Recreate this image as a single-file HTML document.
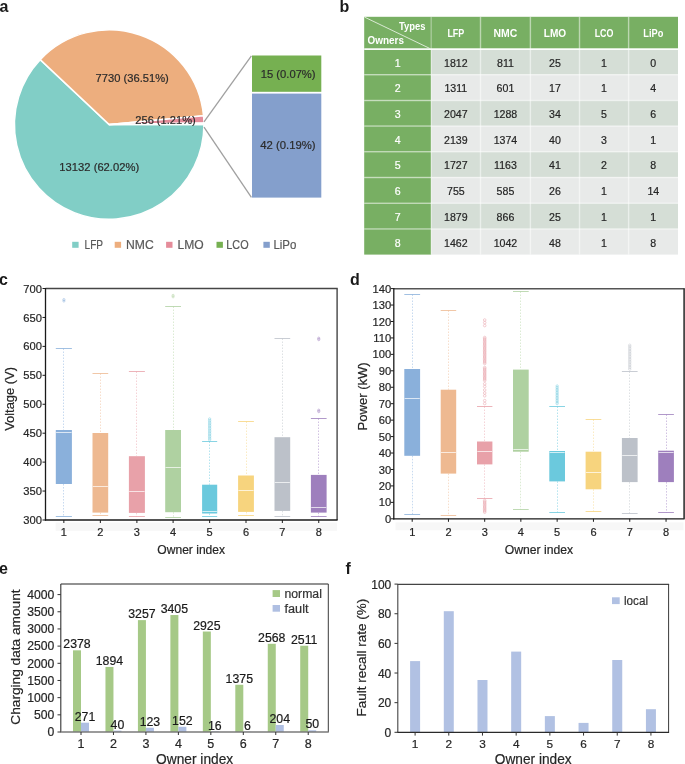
<!DOCTYPE html>
<html><head><meta charset="utf-8"><style>
html,body{margin:0;padding:0;background:#fff;width:685px;height:764px;overflow:hidden}
svg{display:block;will-change:transform}
text{font-family:"Liberation Sans", sans-serif}
</style></head><body>
<svg width="685" height="764" viewBox="0 0 685 764">
<rect x="0" y="0" width="685" height="764" fill="#ffffff"/>
<path d="M109.20,124.60 L203.95,124.60 A94.75,94.75 0 1 1 40.21,59.65 Z" fill="#81CEC6" stroke="#fff" stroke-width="1.5" stroke-linejoin="miter"/>
<path d="M109.20,124.60 L40.21,59.65 A94.75,94.75 0 0 1 203.55,115.86 Z" fill="#EDAE7E" stroke="#fff" stroke-width="1.5" stroke-linejoin="miter"/>
<path d="M109.20,124.60 L203.55,115.86 A94.75,94.75 0 0 1 203.94,123.05 Z" fill="#E58C9A" stroke="#fff" stroke-width="1.5" stroke-linejoin="miter"/>
<path d="M109.20,124.60 L203.94,123.05 A94.75,94.75 0 0 1 203.95,124.60 Z" fill="#ffffff" stroke="#fff" stroke-width="1.5" stroke-linejoin="miter"/>
<line x1="204.00" y1="121.80" x2="251.40" y2="55.80" stroke="#A0A0A0" stroke-width="1.3"/>
<line x1="204.00" y1="127.20" x2="251.40" y2="197.40" stroke="#A0A0A0" stroke-width="1.3"/>
<rect x="252.00" y="55.50" width="69.30" height="36.30" fill="#76B051"/>
<rect x="252.00" y="93.60" width="69.30" height="104.00" fill="#849FCC"/>
<text x="95.60" y="82.30" font-size="11" fill="#2b2b2b" stroke="#2b2b2b" stroke-width="0.2" textLength="73.20" lengthAdjust="spacingAndGlyphs">7730 (36.51%)</text>
<text x="135.30" y="124.40" font-size="11" fill="#2b2b2b" stroke="#2b2b2b" stroke-width="0.2" textLength="60.40" lengthAdjust="spacingAndGlyphs">256 (1.21%)</text>
<text x="59.30" y="170.70" font-size="11" fill="#2b2b2b" stroke="#2b2b2b" stroke-width="0.2" textLength="79.90" lengthAdjust="spacingAndGlyphs">13132 (62.02%)</text>
<text x="260.70" y="78.20" font-size="11" fill="#2b2b2b" stroke="#2b2b2b" stroke-width="0.2" textLength="54.90" lengthAdjust="spacingAndGlyphs">15 (0.07%)</text>
<text x="260.30" y="148.80" font-size="11" fill="#2b2b2b" stroke="#2b2b2b" stroke-width="0.2" textLength="55.30" lengthAdjust="spacingAndGlyphs">42 (0.19%)</text>
<rect x="72.20" y="241.80" width="6.40" height="6.00" fill="#81CEC6"/>
<text x="84.60" y="248.60" font-size="12" fill="#595959" stroke="#595959" stroke-width="0.2" textLength="18.50" lengthAdjust="spacingAndGlyphs">LFP</text>
<rect x="114.70" y="241.80" width="6.40" height="6.00" fill="#EDAE7E"/>
<text x="126.00" y="248.60" font-size="12" fill="#595959" stroke="#595959" stroke-width="0.2" textLength="27.70" lengthAdjust="spacingAndGlyphs">NMC</text>
<rect x="166.10" y="241.80" width="6.40" height="6.00" fill="#E58C9A"/>
<text x="177.50" y="248.60" font-size="12" fill="#595959" stroke="#595959" stroke-width="0.2" textLength="26.20" lengthAdjust="spacingAndGlyphs">LMO</text>
<rect x="216.50" y="241.80" width="6.40" height="6.00" fill="#76B051"/>
<text x="226.30" y="248.60" font-size="12" fill="#595959" stroke="#595959" stroke-width="0.2" textLength="22.30" lengthAdjust="spacingAndGlyphs">LCO</text>
<rect x="263.40" y="241.80" width="6.40" height="6.00" fill="#849FCC"/>
<text x="273.40" y="248.60" font-size="12" fill="#595959" stroke="#595959" stroke-width="0.2" textLength="23.00" lengthAdjust="spacingAndGlyphs">LiPo</text>
<text x="-0.60" y="11.70" font-size="16" fill="#1a1a1a" font-weight="bold">a</text>
<text x="339.60" y="11.70" font-size="16" fill="#1a1a1a" font-weight="bold">b</text>
<rect x="364.20" y="16.80" width="313.80" height="32.20" fill="#78AF63"/>
<rect x="364.20" y="49.00" width="67.00" height="25.70" fill="#78AF63"/>
<rect x="431.20" y="49.00" width="246.80" height="25.70" fill="#D5DED6"/>
<rect x="364.20" y="74.70" width="67.00" height="25.70" fill="#78AF63"/>
<rect x="431.20" y="74.70" width="246.80" height="25.70" fill="#E8EAE9"/>
<rect x="364.20" y="100.40" width="67.00" height="25.70" fill="#78AF63"/>
<rect x="431.20" y="100.40" width="246.80" height="25.70" fill="#D5DED6"/>
<rect x="364.20" y="126.10" width="67.00" height="25.70" fill="#78AF63"/>
<rect x="431.20" y="126.10" width="246.80" height="25.70" fill="#E8EAE9"/>
<rect x="364.20" y="151.80" width="67.00" height="25.70" fill="#78AF63"/>
<rect x="431.20" y="151.80" width="246.80" height="25.70" fill="#D5DED6"/>
<rect x="364.20" y="177.50" width="67.00" height="25.70" fill="#78AF63"/>
<rect x="431.20" y="177.50" width="246.80" height="25.70" fill="#E8EAE9"/>
<rect x="364.20" y="203.20" width="67.00" height="25.70" fill="#78AF63"/>
<rect x="431.20" y="203.20" width="246.80" height="25.70" fill="#D5DED6"/>
<rect x="364.20" y="228.90" width="67.00" height="25.70" fill="#78AF63"/>
<rect x="431.20" y="228.90" width="246.80" height="25.70" fill="#E8EAE9"/>
<line x1="431.20" y1="16.80" x2="431.20" y2="254.60" stroke="#ffffff" stroke-width="1.4" stroke-opacity="0.35"/>
<line x1="480.50" y1="16.80" x2="480.50" y2="254.60" stroke="#ffffff" stroke-width="1.4" stroke-opacity="0.5"/>
<line x1="530.40" y1="16.80" x2="530.40" y2="254.60" stroke="#ffffff" stroke-width="1.4" stroke-opacity="0.5"/>
<line x1="579.50" y1="16.80" x2="579.50" y2="254.60" stroke="#ffffff" stroke-width="1.4" stroke-opacity="0.5"/>
<line x1="628.60" y1="16.80" x2="628.60" y2="254.60" stroke="#ffffff" stroke-width="1.4" stroke-opacity="0.5"/>
<line x1="364.20" y1="74.70" x2="678.00" y2="74.70" stroke="#ffffff" stroke-width="1.5" stroke-opacity="0.45"/>
<line x1="364.20" y1="100.40" x2="678.00" y2="100.40" stroke="#ffffff" stroke-width="1.5" stroke-opacity="0.45"/>
<line x1="364.20" y1="126.10" x2="678.00" y2="126.10" stroke="#ffffff" stroke-width="1.5" stroke-opacity="0.45"/>
<line x1="364.20" y1="151.80" x2="678.00" y2="151.80" stroke="#ffffff" stroke-width="1.5" stroke-opacity="0.45"/>
<line x1="364.20" y1="177.50" x2="678.00" y2="177.50" stroke="#ffffff" stroke-width="1.5" stroke-opacity="0.45"/>
<line x1="364.20" y1="203.20" x2="678.00" y2="203.20" stroke="#ffffff" stroke-width="1.5" stroke-opacity="0.45"/>
<line x1="364.20" y1="228.90" x2="678.00" y2="228.90" stroke="#ffffff" stroke-width="1.5" stroke-opacity="0.45"/>
<line x1="364.20" y1="49.10" x2="678.00" y2="49.10" stroke="#ffffff" stroke-width="1.7" stroke-opacity="0.95"/>
<line x1="364.50" y1="17.10" x2="429.70" y2="48.40" stroke="#ffffff" stroke-width="0.9" stroke-opacity="0.8"/>
<text x="398.90" y="29.60" font-size="10.5" fill="#ffffff" font-weight="bold" textLength="26.60" lengthAdjust="spacingAndGlyphs">Types</text>
<text x="367.60" y="44.40" font-size="10.5" fill="#ffffff" font-weight="bold" textLength="36.40" lengthAdjust="spacingAndGlyphs">Owners</text>
<text x="455.85" y="36.80" font-size="10.5" fill="#ffffff" text-anchor="middle" font-weight="bold" textLength="16.90" lengthAdjust="spacingAndGlyphs">LFP</text>
<text x="505.45" y="36.80" font-size="10.5" fill="#ffffff" text-anchor="middle" font-weight="bold" textLength="23.80" lengthAdjust="spacingAndGlyphs">NMC</text>
<text x="554.95" y="36.80" font-size="10.5" fill="#ffffff" text-anchor="middle" font-weight="bold" textLength="22.40" lengthAdjust="spacingAndGlyphs">LMO</text>
<text x="604.05" y="36.80" font-size="10.5" fill="#ffffff" text-anchor="middle" font-weight="bold" textLength="18.80" lengthAdjust="spacingAndGlyphs">LCO</text>
<text x="653.30" y="36.80" font-size="10.5" fill="#ffffff" text-anchor="middle" font-weight="bold" textLength="20.00" lengthAdjust="spacingAndGlyphs">LiPo</text>
<text x="397.70" y="66.65" font-size="10.6" fill="#ffffff" stroke="#ffffff" stroke-width="0.2" text-anchor="middle">1</text>
<text x="455.85" y="66.65" font-size="10.6" fill="#262626" stroke="#262626" stroke-width="0.2" text-anchor="middle">1812</text>
<text x="505.45" y="66.65" font-size="10.6" fill="#262626" stroke="#262626" stroke-width="0.2" text-anchor="middle">811</text>
<text x="554.95" y="66.65" font-size="10.6" fill="#262626" stroke="#262626" stroke-width="0.2" text-anchor="middle">25</text>
<text x="604.05" y="66.65" font-size="10.6" fill="#262626" stroke="#262626" stroke-width="0.2" text-anchor="middle">1</text>
<text x="653.30" y="66.65" font-size="10.6" fill="#262626" stroke="#262626" stroke-width="0.2" text-anchor="middle">0</text>
<text x="397.70" y="92.35" font-size="10.6" fill="#ffffff" stroke="#ffffff" stroke-width="0.2" text-anchor="middle">2</text>
<text x="455.85" y="92.35" font-size="10.6" fill="#262626" stroke="#262626" stroke-width="0.2" text-anchor="middle">1311</text>
<text x="505.45" y="92.35" font-size="10.6" fill="#262626" stroke="#262626" stroke-width="0.2" text-anchor="middle">601</text>
<text x="554.95" y="92.35" font-size="10.6" fill="#262626" stroke="#262626" stroke-width="0.2" text-anchor="middle">17</text>
<text x="604.05" y="92.35" font-size="10.6" fill="#262626" stroke="#262626" stroke-width="0.2" text-anchor="middle">1</text>
<text x="653.30" y="92.35" font-size="10.6" fill="#262626" stroke="#262626" stroke-width="0.2" text-anchor="middle">4</text>
<text x="397.70" y="118.05" font-size="10.6" fill="#ffffff" stroke="#ffffff" stroke-width="0.2" text-anchor="middle">3</text>
<text x="455.85" y="118.05" font-size="10.6" fill="#262626" stroke="#262626" stroke-width="0.2" text-anchor="middle">2047</text>
<text x="505.45" y="118.05" font-size="10.6" fill="#262626" stroke="#262626" stroke-width="0.2" text-anchor="middle">1288</text>
<text x="554.95" y="118.05" font-size="10.6" fill="#262626" stroke="#262626" stroke-width="0.2" text-anchor="middle">34</text>
<text x="604.05" y="118.05" font-size="10.6" fill="#262626" stroke="#262626" stroke-width="0.2" text-anchor="middle">5</text>
<text x="653.30" y="118.05" font-size="10.6" fill="#262626" stroke="#262626" stroke-width="0.2" text-anchor="middle">6</text>
<text x="397.70" y="143.75" font-size="10.6" fill="#ffffff" stroke="#ffffff" stroke-width="0.2" text-anchor="middle">4</text>
<text x="455.85" y="143.75" font-size="10.6" fill="#262626" stroke="#262626" stroke-width="0.2" text-anchor="middle">2139</text>
<text x="505.45" y="143.75" font-size="10.6" fill="#262626" stroke="#262626" stroke-width="0.2" text-anchor="middle">1374</text>
<text x="554.95" y="143.75" font-size="10.6" fill="#262626" stroke="#262626" stroke-width="0.2" text-anchor="middle">40</text>
<text x="604.05" y="143.75" font-size="10.6" fill="#262626" stroke="#262626" stroke-width="0.2" text-anchor="middle">3</text>
<text x="653.30" y="143.75" font-size="10.6" fill="#262626" stroke="#262626" stroke-width="0.2" text-anchor="middle">1</text>
<text x="397.70" y="169.45" font-size="10.6" fill="#ffffff" stroke="#ffffff" stroke-width="0.2" text-anchor="middle">5</text>
<text x="455.85" y="169.45" font-size="10.6" fill="#262626" stroke="#262626" stroke-width="0.2" text-anchor="middle">1727</text>
<text x="505.45" y="169.45" font-size="10.6" fill="#262626" stroke="#262626" stroke-width="0.2" text-anchor="middle">1163</text>
<text x="554.95" y="169.45" font-size="10.6" fill="#262626" stroke="#262626" stroke-width="0.2" text-anchor="middle">41</text>
<text x="604.05" y="169.45" font-size="10.6" fill="#262626" stroke="#262626" stroke-width="0.2" text-anchor="middle">2</text>
<text x="653.30" y="169.45" font-size="10.6" fill="#262626" stroke="#262626" stroke-width="0.2" text-anchor="middle">8</text>
<text x="397.70" y="195.15" font-size="10.6" fill="#ffffff" stroke="#ffffff" stroke-width="0.2" text-anchor="middle">6</text>
<text x="455.85" y="195.15" font-size="10.6" fill="#262626" stroke="#262626" stroke-width="0.2" text-anchor="middle">755</text>
<text x="505.45" y="195.15" font-size="10.6" fill="#262626" stroke="#262626" stroke-width="0.2" text-anchor="middle">585</text>
<text x="554.95" y="195.15" font-size="10.6" fill="#262626" stroke="#262626" stroke-width="0.2" text-anchor="middle">26</text>
<text x="604.05" y="195.15" font-size="10.6" fill="#262626" stroke="#262626" stroke-width="0.2" text-anchor="middle">1</text>
<text x="653.30" y="195.15" font-size="10.6" fill="#262626" stroke="#262626" stroke-width="0.2" text-anchor="middle">14</text>
<text x="397.70" y="220.85" font-size="10.6" fill="#ffffff" stroke="#ffffff" stroke-width="0.2" text-anchor="middle">7</text>
<text x="455.85" y="220.85" font-size="10.6" fill="#262626" stroke="#262626" stroke-width="0.2" text-anchor="middle">1879</text>
<text x="505.45" y="220.85" font-size="10.6" fill="#262626" stroke="#262626" stroke-width="0.2" text-anchor="middle">866</text>
<text x="554.95" y="220.85" font-size="10.6" fill="#262626" stroke="#262626" stroke-width="0.2" text-anchor="middle">25</text>
<text x="604.05" y="220.85" font-size="10.6" fill="#262626" stroke="#262626" stroke-width="0.2" text-anchor="middle">1</text>
<text x="653.30" y="220.85" font-size="10.6" fill="#262626" stroke="#262626" stroke-width="0.2" text-anchor="middle">1</text>
<text x="397.70" y="246.55" font-size="10.6" fill="#ffffff" stroke="#ffffff" stroke-width="0.2" text-anchor="middle">8</text>
<text x="455.85" y="246.55" font-size="10.6" fill="#262626" stroke="#262626" stroke-width="0.2" text-anchor="middle">1462</text>
<text x="505.45" y="246.55" font-size="10.6" fill="#262626" stroke="#262626" stroke-width="0.2" text-anchor="middle">1042</text>
<text x="554.95" y="246.55" font-size="10.6" fill="#262626" stroke="#262626" stroke-width="0.2" text-anchor="middle">48</text>
<text x="604.05" y="246.55" font-size="10.6" fill="#262626" stroke="#262626" stroke-width="0.2" text-anchor="middle">1</text>
<text x="653.30" y="246.55" font-size="10.6" fill="#262626" stroke="#262626" stroke-width="0.2" text-anchor="middle">8</text>
<text x="-1.00" y="284.60" font-size="16" fill="#1a1a1a" font-weight="bold">c</text>
<rect x="55.60" y="522.50" width="281.40" height="8.30" fill="#F7F7F7"/>
<line x1="63.50" y1="348.50" x2="63.50" y2="430.00" stroke="#A9C6E8" stroke-width="1.0" stroke-dasharray="1.5,1.5" stroke-opacity="0.65"/>
<line x1="63.50" y1="484.00" x2="63.50" y2="516.50" stroke="#A9C6E8" stroke-width="1.0" stroke-dasharray="1.5,1.5" stroke-opacity="0.65"/>
<line x1="55.80" y1="348.50" x2="71.90" y2="348.50" stroke="#8AB0DB" stroke-width="1.0" stroke-opacity="0.8"/>
<line x1="55.80" y1="516.50" x2="71.90" y2="516.50" stroke="#8AB0DB" stroke-width="1.0" stroke-opacity="0.8"/>
<rect x="55.80" y="430.00" width="16.10" height="54.00" fill="#8AB0DB"/>
<line x1="56.10" y1="432.50" x2="71.60" y2="432.50" stroke="#ffffff" stroke-width="1.0" stroke-opacity="0.7"/>
<line x1="100.50" y1="373.50" x2="100.50" y2="433.00" stroke="#F3CDB0" stroke-width="1.0" stroke-dasharray="1.5,1.5" stroke-opacity="0.65"/>
<line x1="100.50" y1="512.60" x2="100.50" y2="515.50" stroke="#F3CDB0" stroke-width="1.0" stroke-dasharray="1.5,1.5" stroke-opacity="0.65"/>
<line x1="92.50" y1="373.50" x2="108.20" y2="373.50" stroke="#EEB991" stroke-width="1.0" stroke-opacity="0.8"/>
<line x1="92.50" y1="515.50" x2="108.20" y2="515.50" stroke="#EEB991" stroke-width="1.0" stroke-opacity="0.8"/>
<rect x="92.50" y="433.00" width="15.70" height="79.60" fill="#EEB991"/>
<line x1="92.80" y1="486.50" x2="107.90" y2="486.50" stroke="#ffffff" stroke-width="1.0" stroke-opacity="0.7"/>
<line x1="136.50" y1="371.50" x2="136.50" y2="456.20" stroke="#EFBCC2" stroke-width="1.0" stroke-dasharray="1.5,1.5" stroke-opacity="0.65"/>
<line x1="136.50" y1="512.90" x2="136.50" y2="516.50" stroke="#EFBCC2" stroke-width="1.0" stroke-dasharray="1.5,1.5" stroke-opacity="0.65"/>
<line x1="128.90" y1="371.50" x2="144.90" y2="371.50" stroke="#E8A1A9" stroke-width="1.0" stroke-opacity="0.8"/>
<line x1="128.90" y1="516.50" x2="144.90" y2="516.50" stroke="#E8A1A9" stroke-width="1.0" stroke-opacity="0.8"/>
<rect x="128.90" y="456.20" width="16.00" height="56.70" fill="#E8A1A9"/>
<line x1="129.20" y1="491.50" x2="144.60" y2="491.50" stroke="#ffffff" stroke-width="1.0" stroke-opacity="0.7"/>
<line x1="173.50" y1="306.50" x2="173.50" y2="430.00" stroke="#C7E0BC" stroke-width="1.0" stroke-dasharray="1.5,1.5" stroke-opacity="0.65"/>
<line x1="173.50" y1="512.20" x2="173.50" y2="517.50" stroke="#C7E0BC" stroke-width="1.0" stroke-dasharray="1.5,1.5" stroke-opacity="0.65"/>
<line x1="165.20" y1="306.50" x2="181.00" y2="306.50" stroke="#AFD1A1" stroke-width="1.0" stroke-opacity="0.8"/>
<line x1="165.20" y1="517.50" x2="181.00" y2="517.50" stroke="#AFD1A1" stroke-width="1.0" stroke-opacity="0.8"/>
<rect x="165.20" y="430.00" width="15.80" height="82.20" fill="#AFD1A1"/>
<line x1="165.50" y1="467.50" x2="180.70" y2="467.50" stroke="#ffffff" stroke-width="1.0" stroke-opacity="0.7"/>
<line x1="209.50" y1="441.50" x2="209.50" y2="484.70" stroke="#8BD6E6" stroke-width="1.0" stroke-dasharray="1.5,1.5" stroke-opacity="0.65"/>
<line x1="209.50" y1="513.50" x2="209.50" y2="516.50" stroke="#8BD6E6" stroke-width="1.0" stroke-dasharray="1.5,1.5" stroke-opacity="0.65"/>
<line x1="202.10" y1="441.50" x2="217.20" y2="441.50" stroke="#6BC9DD" stroke-width="1.0" stroke-opacity="0.8"/>
<line x1="202.10" y1="516.50" x2="217.20" y2="516.50" stroke="#6BC9DD" stroke-width="1.0" stroke-opacity="0.8"/>
<rect x="202.10" y="484.70" width="15.10" height="28.80" fill="#6BC9DD"/>
<line x1="202.40" y1="511.50" x2="216.90" y2="511.50" stroke="#ffffff" stroke-width="1.0" stroke-opacity="0.7"/>
<line x1="246.50" y1="421.50" x2="246.50" y2="475.50" stroke="#F9E0A3" stroke-width="1.0" stroke-dasharray="1.5,1.5" stroke-opacity="0.65"/>
<line x1="246.50" y1="511.90" x2="246.50" y2="515.50" stroke="#F9E0A3" stroke-width="1.0" stroke-dasharray="1.5,1.5" stroke-opacity="0.65"/>
<line x1="238.10" y1="421.50" x2="253.90" y2="421.50" stroke="#F7D47E" stroke-width="1.0" stroke-opacity="0.8"/>
<line x1="238.10" y1="515.50" x2="253.90" y2="515.50" stroke="#F7D47E" stroke-width="1.0" stroke-opacity="0.8"/>
<rect x="238.10" y="475.50" width="15.80" height="36.40" fill="#F7D47E"/>
<line x1="238.40" y1="490.50" x2="253.60" y2="490.50" stroke="#ffffff" stroke-width="1.0" stroke-opacity="0.7"/>
<line x1="282.50" y1="338.50" x2="282.50" y2="437.20" stroke="#CDD1D6" stroke-width="1.0" stroke-dasharray="1.5,1.5" stroke-opacity="0.65"/>
<line x1="282.50" y1="510.90" x2="282.50" y2="516.50" stroke="#CDD1D6" stroke-width="1.0" stroke-dasharray="1.5,1.5" stroke-opacity="0.65"/>
<line x1="274.50" y1="338.50" x2="290.20" y2="338.50" stroke="#BCC1C9" stroke-width="1.0" stroke-opacity="0.8"/>
<line x1="274.50" y1="516.50" x2="290.20" y2="516.50" stroke="#BCC1C9" stroke-width="1.0" stroke-opacity="0.8"/>
<rect x="274.50" y="437.20" width="15.70" height="73.70" fill="#BCC1C9"/>
<line x1="274.80" y1="482.50" x2="289.90" y2="482.50" stroke="#ffffff" stroke-width="1.0" stroke-opacity="0.7"/>
<line x1="318.50" y1="418.50" x2="318.50" y2="474.90" stroke="#B9A2D2" stroke-width="1.0" stroke-dasharray="1.5,1.5" stroke-opacity="0.65"/>
<line x1="318.50" y1="512.60" x2="318.50" y2="516.50" stroke="#B9A2D2" stroke-width="1.0" stroke-dasharray="1.5,1.5" stroke-opacity="0.65"/>
<line x1="310.90" y1="418.50" x2="326.60" y2="418.50" stroke="#9E7FBD" stroke-width="1.0" stroke-opacity="0.8"/>
<line x1="310.90" y1="516.50" x2="326.60" y2="516.50" stroke="#9E7FBD" stroke-width="1.0" stroke-opacity="0.8"/>
<rect x="310.90" y="474.90" width="15.70" height="37.70" fill="#9E7FBD"/>
<line x1="311.20" y1="507.50" x2="326.30" y2="507.50" stroke="#ffffff" stroke-width="1.0" stroke-opacity="0.7"/>
<circle cx="63.90" cy="299.60" r="1.1" fill="none" stroke="#8AB0DB" stroke-width="0.6" stroke-opacity="0.85"/>
<circle cx="63.90" cy="301.00" r="1.1" fill="none" stroke="#8AB0DB" stroke-width="0.6" stroke-opacity="0.85"/>
<circle cx="173.10" cy="295.40" r="1.1" fill="none" stroke="#AFD1A1" stroke-width="0.6" stroke-opacity="0.85"/>
<circle cx="173.10" cy="296.80" r="1.1" fill="none" stroke="#AFD1A1" stroke-width="0.6" stroke-opacity="0.85"/>
<circle cx="209.65" cy="419.00" r="1.2" fill="none" stroke="#6BC9DD" stroke-width="0.55" stroke-opacity="0.8"/>
<circle cx="209.65" cy="420.60" r="1.2" fill="none" stroke="#6BC9DD" stroke-width="0.55" stroke-opacity="0.8"/>
<circle cx="209.65" cy="422.20" r="1.2" fill="none" stroke="#6BC9DD" stroke-width="0.55" stroke-opacity="0.8"/>
<circle cx="209.65" cy="423.80" r="1.2" fill="none" stroke="#6BC9DD" stroke-width="0.55" stroke-opacity="0.8"/>
<circle cx="209.65" cy="425.40" r="1.2" fill="none" stroke="#6BC9DD" stroke-width="0.55" stroke-opacity="0.8"/>
<circle cx="209.65" cy="427.00" r="1.2" fill="none" stroke="#6BC9DD" stroke-width="0.55" stroke-opacity="0.8"/>
<circle cx="209.65" cy="428.60" r="1.2" fill="none" stroke="#6BC9DD" stroke-width="0.55" stroke-opacity="0.8"/>
<circle cx="209.65" cy="430.20" r="1.2" fill="none" stroke="#6BC9DD" stroke-width="0.55" stroke-opacity="0.8"/>
<circle cx="209.65" cy="431.80" r="1.2" fill="none" stroke="#6BC9DD" stroke-width="0.55" stroke-opacity="0.8"/>
<circle cx="209.65" cy="433.40" r="1.2" fill="none" stroke="#6BC9DD" stroke-width="0.55" stroke-opacity="0.8"/>
<circle cx="209.65" cy="435.00" r="1.2" fill="none" stroke="#6BC9DD" stroke-width="0.55" stroke-opacity="0.8"/>
<circle cx="209.65" cy="436.60" r="1.2" fill="none" stroke="#6BC9DD" stroke-width="0.55" stroke-opacity="0.8"/>
<circle cx="209.65" cy="438.20" r="1.2" fill="none" stroke="#6BC9DD" stroke-width="0.55" stroke-opacity="0.8"/>
<circle cx="209.65" cy="439.80" r="1.2" fill="none" stroke="#6BC9DD" stroke-width="0.55" stroke-opacity="0.8"/>
<circle cx="318.75" cy="338.20" r="1.1" fill="none" stroke="#9E7FBD" stroke-width="0.6" stroke-opacity="0.85"/>
<circle cx="318.75" cy="339.60" r="1.1" fill="none" stroke="#9E7FBD" stroke-width="0.6" stroke-opacity="0.85"/>
<circle cx="318.75" cy="410.20" r="1.1" fill="none" stroke="#9E7FBD" stroke-width="0.6" stroke-opacity="0.85"/>
<circle cx="318.75" cy="411.60" r="1.1" fill="none" stroke="#9E7FBD" stroke-width="0.6" stroke-opacity="0.85"/>
<line x1="45.50" y1="288.50" x2="337.70" y2="288.50" stroke="#454545" stroke-width="1.3"/>
<line x1="337.10" y1="288.50" x2="337.10" y2="520.00" stroke="#454545" stroke-width="1.4"/>
<line x1="45.50" y1="288.00" x2="45.50" y2="520.60" stroke="#1a1a1a" stroke-width="1.3"/>
<line x1="44.90" y1="520.00" x2="337.60" y2="520.00" stroke="#1a1a1a" stroke-width="1.3"/>
<line x1="42.50" y1="520.00" x2="45.50" y2="520.00" stroke="#1a1a1a" stroke-width="1"/>
<text x="42.00" y="524.10" font-size="11.2" fill="#262626" stroke="#262626" stroke-width="0.2" text-anchor="end">300</text>
<line x1="42.50" y1="491.06" x2="45.50" y2="491.06" stroke="#1a1a1a" stroke-width="1"/>
<text x="42.00" y="495.16" font-size="11.2" fill="#262626" stroke="#262626" stroke-width="0.2" text-anchor="end">350</text>
<line x1="42.50" y1="462.12" x2="45.50" y2="462.12" stroke="#1a1a1a" stroke-width="1"/>
<text x="42.00" y="466.23" font-size="11.2" fill="#262626" stroke="#262626" stroke-width="0.2" text-anchor="end">400</text>
<line x1="42.50" y1="433.19" x2="45.50" y2="433.19" stroke="#1a1a1a" stroke-width="1"/>
<text x="42.00" y="437.29" font-size="11.2" fill="#262626" stroke="#262626" stroke-width="0.2" text-anchor="end">450</text>
<line x1="42.50" y1="404.25" x2="45.50" y2="404.25" stroke="#1a1a1a" stroke-width="1"/>
<text x="42.00" y="408.35" font-size="11.2" fill="#262626" stroke="#262626" stroke-width="0.2" text-anchor="end">500</text>
<line x1="42.50" y1="375.31" x2="45.50" y2="375.31" stroke="#1a1a1a" stroke-width="1"/>
<text x="42.00" y="379.41" font-size="11.2" fill="#262626" stroke="#262626" stroke-width="0.2" text-anchor="end">550</text>
<line x1="42.50" y1="346.38" x2="45.50" y2="346.38" stroke="#1a1a1a" stroke-width="1"/>
<text x="42.00" y="350.48" font-size="11.2" fill="#262626" stroke="#262626" stroke-width="0.2" text-anchor="end">600</text>
<line x1="42.50" y1="317.44" x2="45.50" y2="317.44" stroke="#1a1a1a" stroke-width="1"/>
<text x="42.00" y="321.54" font-size="11.2" fill="#262626" stroke="#262626" stroke-width="0.2" text-anchor="end">650</text>
<line x1="42.50" y1="288.50" x2="45.50" y2="288.50" stroke="#1a1a1a" stroke-width="1"/>
<text x="42.00" y="292.60" font-size="11.2" fill="#262626" stroke="#262626" stroke-width="0.2" text-anchor="end">700</text>
<line x1="63.85" y1="520.00" x2="63.85" y2="523.00" stroke="#1a1a1a" stroke-width="1"/>
<text x="63.85" y="535.60" font-size="11" fill="#262626" stroke="#262626" stroke-width="0.2" text-anchor="middle">1</text>
<line x1="100.35" y1="520.00" x2="100.35" y2="523.00" stroke="#1a1a1a" stroke-width="1"/>
<text x="100.35" y="535.60" font-size="11" fill="#262626" stroke="#262626" stroke-width="0.2" text-anchor="middle">2</text>
<line x1="136.90" y1="520.00" x2="136.90" y2="523.00" stroke="#1a1a1a" stroke-width="1"/>
<text x="136.90" y="535.60" font-size="11" fill="#262626" stroke="#262626" stroke-width="0.2" text-anchor="middle">3</text>
<line x1="173.10" y1="520.00" x2="173.10" y2="523.00" stroke="#1a1a1a" stroke-width="1"/>
<text x="173.10" y="535.60" font-size="11" fill="#262626" stroke="#262626" stroke-width="0.2" text-anchor="middle">4</text>
<line x1="209.65" y1="520.00" x2="209.65" y2="523.00" stroke="#1a1a1a" stroke-width="1"/>
<text x="209.65" y="535.60" font-size="11" fill="#262626" stroke="#262626" stroke-width="0.2" text-anchor="middle">5</text>
<line x1="246.00" y1="520.00" x2="246.00" y2="523.00" stroke="#1a1a1a" stroke-width="1"/>
<text x="246.00" y="535.60" font-size="11" fill="#262626" stroke="#262626" stroke-width="0.2" text-anchor="middle">6</text>
<line x1="282.35" y1="520.00" x2="282.35" y2="523.00" stroke="#1a1a1a" stroke-width="1"/>
<text x="282.35" y="535.60" font-size="11" fill="#262626" stroke="#262626" stroke-width="0.2" text-anchor="middle">7</text>
<line x1="318.75" y1="520.00" x2="318.75" y2="523.00" stroke="#1a1a1a" stroke-width="1"/>
<text x="318.75" y="535.60" font-size="11" fill="#262626" stroke="#262626" stroke-width="0.2" text-anchor="middle">8</text>
<text x="157.30" y="554.00" font-size="12" fill="#262626" stroke="#262626" stroke-width="0.2" textLength="67.80" lengthAdjust="spacingAndGlyphs">Owner index</text>
<text x="13.60" y="430.80" font-size="12.3" fill="#262626" stroke="#262626" stroke-width="0.2" textLength="63.80" lengthAdjust="spacingAndGlyphs" transform="rotate(-90 13.60 430.80)">Voltage (V)</text>
<text x="349.90" y="285.20" font-size="16" fill="#1a1a1a" font-weight="bold">d</text>
<rect x="395.50" y="522.40" width="288.00" height="7.90" fill="#F7F7F7"/>
<line x1="412.50" y1="294.50" x2="412.50" y2="369.00" stroke="#A9C6E8" stroke-width="1.0" stroke-dasharray="1.5,1.5" stroke-opacity="0.65"/>
<line x1="412.50" y1="455.80" x2="412.50" y2="514.50" stroke="#A9C6E8" stroke-width="1.0" stroke-dasharray="1.5,1.5" stroke-opacity="0.65"/>
<line x1="404.30" y1="294.50" x2="420.10" y2="294.50" stroke="#8AB0DB" stroke-width="1.0" stroke-opacity="0.8"/>
<line x1="404.30" y1="514.50" x2="420.10" y2="514.50" stroke="#8AB0DB" stroke-width="1.0" stroke-opacity="0.8"/>
<rect x="404.30" y="369.00" width="15.80" height="86.80" fill="#8AB0DB"/>
<line x1="404.60" y1="398.50" x2="419.80" y2="398.50" stroke="#ffffff" stroke-width="1.0" stroke-opacity="0.7"/>
<line x1="448.50" y1="310.50" x2="448.50" y2="389.70" stroke="#F3CDB0" stroke-width="1.0" stroke-dasharray="1.5,1.5" stroke-opacity="0.65"/>
<line x1="448.50" y1="473.60" x2="448.50" y2="515.50" stroke="#F3CDB0" stroke-width="1.0" stroke-dasharray="1.5,1.5" stroke-opacity="0.65"/>
<line x1="440.70" y1="310.50" x2="456.20" y2="310.50" stroke="#EEB991" stroke-width="1.0" stroke-opacity="0.8"/>
<line x1="440.70" y1="515.50" x2="456.20" y2="515.50" stroke="#EEB991" stroke-width="1.0" stroke-opacity="0.8"/>
<rect x="440.70" y="389.70" width="15.50" height="83.90" fill="#EEB991"/>
<line x1="441.00" y1="452.50" x2="455.90" y2="452.50" stroke="#ffffff" stroke-width="1.0" stroke-opacity="0.7"/>
<line x1="484.50" y1="406.50" x2="484.50" y2="441.50" stroke="#EFBCC2" stroke-width="1.0" stroke-dasharray="1.5,1.5" stroke-opacity="0.65"/>
<line x1="484.50" y1="464.40" x2="484.50" y2="498.50" stroke="#EFBCC2" stroke-width="1.0" stroke-dasharray="1.5,1.5" stroke-opacity="0.65"/>
<line x1="477.00" y1="406.50" x2="492.40" y2="406.50" stroke="#E8A1A9" stroke-width="1.0" stroke-opacity="0.8"/>
<line x1="477.00" y1="498.50" x2="492.40" y2="498.50" stroke="#E8A1A9" stroke-width="1.0" stroke-opacity="0.8"/>
<rect x="477.00" y="441.50" width="15.40" height="22.90" fill="#E8A1A9"/>
<line x1="477.30" y1="451.50" x2="492.10" y2="451.50" stroke="#ffffff" stroke-width="1.0" stroke-opacity="0.7"/>
<line x1="520.50" y1="291.50" x2="520.50" y2="369.60" stroke="#C7E0BC" stroke-width="1.0" stroke-dasharray="1.5,1.5" stroke-opacity="0.65"/>
<line x1="520.50" y1="451.70" x2="520.50" y2="509.50" stroke="#C7E0BC" stroke-width="1.0" stroke-dasharray="1.5,1.5" stroke-opacity="0.65"/>
<line x1="513.00" y1="291.50" x2="528.70" y2="291.50" stroke="#AFD1A1" stroke-width="1.0" stroke-opacity="0.8"/>
<line x1="513.00" y1="509.50" x2="528.70" y2="509.50" stroke="#AFD1A1" stroke-width="1.0" stroke-opacity="0.8"/>
<rect x="513.00" y="369.60" width="15.70" height="82.10" fill="#AFD1A1"/>
<line x1="513.30" y1="449.50" x2="528.40" y2="449.50" stroke="#ffffff" stroke-width="1.0" stroke-opacity="0.7"/>
<line x1="557.50" y1="406.50" x2="557.50" y2="451.00" stroke="#8BD6E6" stroke-width="1.0" stroke-dasharray="1.5,1.5" stroke-opacity="0.65"/>
<line x1="557.50" y1="481.40" x2="557.50" y2="512.50" stroke="#8BD6E6" stroke-width="1.0" stroke-dasharray="1.5,1.5" stroke-opacity="0.65"/>
<line x1="549.30" y1="406.50" x2="565.00" y2="406.50" stroke="#6BC9DD" stroke-width="1.0" stroke-opacity="0.8"/>
<line x1="549.30" y1="512.50" x2="565.00" y2="512.50" stroke="#6BC9DD" stroke-width="1.0" stroke-opacity="0.8"/>
<rect x="549.30" y="451.00" width="15.70" height="30.40" fill="#6BC9DD"/>
<line x1="549.60" y1="452.50" x2="564.70" y2="452.50" stroke="#ffffff" stroke-width="1.0" stroke-opacity="0.7"/>
<line x1="593.50" y1="419.50" x2="593.50" y2="451.70" stroke="#F9E0A3" stroke-width="1.0" stroke-dasharray="1.5,1.5" stroke-opacity="0.65"/>
<line x1="593.50" y1="489.30" x2="593.50" y2="511.50" stroke="#F9E0A3" stroke-width="1.0" stroke-dasharray="1.5,1.5" stroke-opacity="0.65"/>
<line x1="585.60" y1="419.50" x2="601.30" y2="419.50" stroke="#F7D47E" stroke-width="1.0" stroke-opacity="0.8"/>
<line x1="585.60" y1="511.50" x2="601.30" y2="511.50" stroke="#F7D47E" stroke-width="1.0" stroke-opacity="0.8"/>
<rect x="585.60" y="451.70" width="15.70" height="37.60" fill="#F7D47E"/>
<line x1="585.90" y1="472.50" x2="601.00" y2="472.50" stroke="#ffffff" stroke-width="1.0" stroke-opacity="0.7"/>
<line x1="629.50" y1="371.50" x2="629.50" y2="438.00" stroke="#CDD1D6" stroke-width="1.0" stroke-dasharray="1.5,1.5" stroke-opacity="0.65"/>
<line x1="629.50" y1="482.10" x2="629.50" y2="513.50" stroke="#CDD1D6" stroke-width="1.0" stroke-dasharray="1.5,1.5" stroke-opacity="0.65"/>
<line x1="621.90" y1="371.50" x2="637.60" y2="371.50" stroke="#BCC1C9" stroke-width="1.0" stroke-opacity="0.8"/>
<line x1="621.90" y1="513.50" x2="637.60" y2="513.50" stroke="#BCC1C9" stroke-width="1.0" stroke-opacity="0.8"/>
<rect x="621.90" y="438.00" width="15.70" height="44.10" fill="#BCC1C9"/>
<line x1="622.20" y1="455.50" x2="637.30" y2="455.50" stroke="#ffffff" stroke-width="1.0" stroke-opacity="0.7"/>
<line x1="666.50" y1="414.50" x2="666.50" y2="450.70" stroke="#B9A2D2" stroke-width="1.0" stroke-dasharray="1.5,1.5" stroke-opacity="0.65"/>
<line x1="666.50" y1="482.10" x2="666.50" y2="512.50" stroke="#B9A2D2" stroke-width="1.0" stroke-dasharray="1.5,1.5" stroke-opacity="0.65"/>
<line x1="658.20" y1="414.50" x2="673.90" y2="414.50" stroke="#9E7FBD" stroke-width="1.0" stroke-opacity="0.8"/>
<line x1="658.20" y1="512.50" x2="673.90" y2="512.50" stroke="#9E7FBD" stroke-width="1.0" stroke-opacity="0.8"/>
<rect x="658.20" y="450.70" width="15.70" height="31.40" fill="#9E7FBD"/>
<line x1="658.50" y1="452.50" x2="673.60" y2="452.50" stroke="#ffffff" stroke-width="1.0" stroke-opacity="0.7"/>
<circle cx="484.70" cy="320.00" r="1.3" fill="none" stroke="#E8A1A9" stroke-width="0.6" stroke-opacity="0.85"/>
<circle cx="484.70" cy="322.60" r="1.3" fill="none" stroke="#E8A1A9" stroke-width="0.6" stroke-opacity="0.85"/>
<circle cx="484.70" cy="325.60" r="1.3" fill="none" stroke="#E8A1A9" stroke-width="0.6" stroke-opacity="0.85"/>
<circle cx="484.70" cy="337.50" r="1.3" fill="none" stroke="#E8A1A9" stroke-width="0.6" stroke-opacity="0.85"/>
<circle cx="484.70" cy="338.80" r="1.3" fill="none" stroke="#E8A1A9" stroke-width="0.6" stroke-opacity="0.85"/>
<circle cx="484.70" cy="340.10" r="1.3" fill="none" stroke="#E8A1A9" stroke-width="0.6" stroke-opacity="0.85"/>
<circle cx="484.70" cy="341.40" r="1.3" fill="none" stroke="#E8A1A9" stroke-width="0.6" stroke-opacity="0.85"/>
<circle cx="484.70" cy="342.70" r="1.3" fill="none" stroke="#E8A1A9" stroke-width="0.6" stroke-opacity="0.85"/>
<circle cx="484.70" cy="344.00" r="1.3" fill="none" stroke="#E8A1A9" stroke-width="0.6" stroke-opacity="0.85"/>
<circle cx="484.70" cy="345.30" r="1.3" fill="none" stroke="#E8A1A9" stroke-width="0.6" stroke-opacity="0.85"/>
<circle cx="484.70" cy="346.60" r="1.3" fill="none" stroke="#E8A1A9" stroke-width="0.6" stroke-opacity="0.85"/>
<circle cx="484.70" cy="347.90" r="1.3" fill="none" stroke="#E8A1A9" stroke-width="0.6" stroke-opacity="0.85"/>
<circle cx="484.70" cy="349.20" r="1.3" fill="none" stroke="#E8A1A9" stroke-width="0.6" stroke-opacity="0.85"/>
<circle cx="484.70" cy="350.50" r="1.3" fill="none" stroke="#E8A1A9" stroke-width="0.6" stroke-opacity="0.85"/>
<circle cx="484.70" cy="351.80" r="1.3" fill="none" stroke="#E8A1A9" stroke-width="0.6" stroke-opacity="0.85"/>
<circle cx="484.70" cy="353.10" r="1.3" fill="none" stroke="#E8A1A9" stroke-width="0.6" stroke-opacity="0.85"/>
<circle cx="484.70" cy="354.40" r="1.3" fill="none" stroke="#E8A1A9" stroke-width="0.6" stroke-opacity="0.85"/>
<circle cx="484.70" cy="355.70" r="1.3" fill="none" stroke="#E8A1A9" stroke-width="0.6" stroke-opacity="0.85"/>
<circle cx="484.70" cy="357.00" r="1.3" fill="none" stroke="#E8A1A9" stroke-width="0.6" stroke-opacity="0.85"/>
<circle cx="484.70" cy="358.30" r="1.3" fill="none" stroke="#E8A1A9" stroke-width="0.6" stroke-opacity="0.85"/>
<circle cx="484.70" cy="359.60" r="1.3" fill="none" stroke="#E8A1A9" stroke-width="0.6" stroke-opacity="0.85"/>
<circle cx="484.70" cy="360.90" r="1.3" fill="none" stroke="#E8A1A9" stroke-width="0.6" stroke-opacity="0.85"/>
<circle cx="484.70" cy="362.20" r="1.3" fill="none" stroke="#E8A1A9" stroke-width="0.6" stroke-opacity="0.85"/>
<circle cx="484.70" cy="363.50" r="1.3" fill="none" stroke="#E8A1A9" stroke-width="0.6" stroke-opacity="0.85"/>
<circle cx="484.70" cy="367.50" r="1.3" fill="none" stroke="#E8A1A9" stroke-width="0.6" stroke-opacity="0.85"/>
<circle cx="484.70" cy="368.80" r="1.3" fill="none" stroke="#E8A1A9" stroke-width="0.6" stroke-opacity="0.85"/>
<circle cx="484.70" cy="370.10" r="1.3" fill="none" stroke="#E8A1A9" stroke-width="0.6" stroke-opacity="0.85"/>
<circle cx="484.70" cy="371.40" r="1.3" fill="none" stroke="#E8A1A9" stroke-width="0.6" stroke-opacity="0.85"/>
<circle cx="484.70" cy="372.70" r="1.3" fill="none" stroke="#E8A1A9" stroke-width="0.6" stroke-opacity="0.85"/>
<circle cx="484.70" cy="374.00" r="1.3" fill="none" stroke="#E8A1A9" stroke-width="0.6" stroke-opacity="0.85"/>
<circle cx="484.70" cy="375.30" r="1.3" fill="none" stroke="#E8A1A9" stroke-width="0.6" stroke-opacity="0.85"/>
<circle cx="484.70" cy="376.60" r="1.3" fill="none" stroke="#E8A1A9" stroke-width="0.6" stroke-opacity="0.85"/>
<circle cx="484.70" cy="377.90" r="1.3" fill="none" stroke="#E8A1A9" stroke-width="0.6" stroke-opacity="0.85"/>
<circle cx="484.70" cy="379.20" r="1.3" fill="none" stroke="#E8A1A9" stroke-width="0.6" stroke-opacity="0.85"/>
<circle cx="484.70" cy="380.50" r="1.3" fill="none" stroke="#E8A1A9" stroke-width="0.6" stroke-opacity="0.85"/>
<circle cx="484.70" cy="383.80" r="1.3" fill="none" stroke="#E8A1A9" stroke-width="0.6" stroke-opacity="0.85"/>
<circle cx="484.70" cy="386.50" r="1.3" fill="none" stroke="#E8A1A9" stroke-width="0.6" stroke-opacity="0.85"/>
<circle cx="484.70" cy="390.00" r="1.3" fill="none" stroke="#E8A1A9" stroke-width="0.6" stroke-opacity="0.85"/>
<circle cx="484.70" cy="393.00" r="1.3" fill="none" stroke="#E8A1A9" stroke-width="0.6" stroke-opacity="0.85"/>
<circle cx="484.70" cy="395.80" r="1.3" fill="none" stroke="#E8A1A9" stroke-width="0.6" stroke-opacity="0.85"/>
<circle cx="484.70" cy="400.60" r="1.3" fill="none" stroke="#E8A1A9" stroke-width="0.6" stroke-opacity="0.85"/>
<circle cx="484.70" cy="403.60" r="1.3" fill="none" stroke="#E8A1A9" stroke-width="0.6" stroke-opacity="0.85"/>
<circle cx="484.70" cy="500.50" r="1.3" fill="none" stroke="#E8A1A9" stroke-width="0.6" stroke-opacity="0.85"/>
<circle cx="484.70" cy="501.80" r="1.3" fill="none" stroke="#E8A1A9" stroke-width="0.6" stroke-opacity="0.85"/>
<circle cx="484.70" cy="503.10" r="1.3" fill="none" stroke="#E8A1A9" stroke-width="0.6" stroke-opacity="0.85"/>
<circle cx="484.70" cy="504.40" r="1.3" fill="none" stroke="#E8A1A9" stroke-width="0.6" stroke-opacity="0.85"/>
<circle cx="484.70" cy="505.70" r="1.3" fill="none" stroke="#E8A1A9" stroke-width="0.6" stroke-opacity="0.85"/>
<circle cx="484.70" cy="507.00" r="1.3" fill="none" stroke="#E8A1A9" stroke-width="0.6" stroke-opacity="0.85"/>
<circle cx="484.70" cy="508.30" r="1.3" fill="none" stroke="#E8A1A9" stroke-width="0.6" stroke-opacity="0.85"/>
<circle cx="484.70" cy="509.60" r="1.3" fill="none" stroke="#E8A1A9" stroke-width="0.6" stroke-opacity="0.85"/>
<circle cx="484.70" cy="510.90" r="1.3" fill="none" stroke="#E8A1A9" stroke-width="0.6" stroke-opacity="0.85"/>
<circle cx="484.70" cy="512.20" r="1.3" fill="none" stroke="#E8A1A9" stroke-width="0.6" stroke-opacity="0.85"/>
<circle cx="557.15" cy="386.00" r="1.2" fill="none" stroke="#6BC9DD" stroke-width="0.55" stroke-opacity="0.8"/>
<circle cx="557.15" cy="387.60" r="1.2" fill="none" stroke="#6BC9DD" stroke-width="0.55" stroke-opacity="0.8"/>
<circle cx="557.15" cy="389.20" r="1.2" fill="none" stroke="#6BC9DD" stroke-width="0.55" stroke-opacity="0.8"/>
<circle cx="557.15" cy="390.80" r="1.2" fill="none" stroke="#6BC9DD" stroke-width="0.55" stroke-opacity="0.8"/>
<circle cx="557.15" cy="392.40" r="1.2" fill="none" stroke="#6BC9DD" stroke-width="0.55" stroke-opacity="0.8"/>
<circle cx="557.15" cy="394.00" r="1.2" fill="none" stroke="#6BC9DD" stroke-width="0.55" stroke-opacity="0.8"/>
<circle cx="557.15" cy="395.60" r="1.2" fill="none" stroke="#6BC9DD" stroke-width="0.55" stroke-opacity="0.8"/>
<circle cx="557.15" cy="397.20" r="1.2" fill="none" stroke="#6BC9DD" stroke-width="0.55" stroke-opacity="0.8"/>
<circle cx="557.15" cy="398.80" r="1.2" fill="none" stroke="#6BC9DD" stroke-width="0.55" stroke-opacity="0.8"/>
<circle cx="557.15" cy="400.40" r="1.2" fill="none" stroke="#6BC9DD" stroke-width="0.55" stroke-opacity="0.8"/>
<circle cx="557.15" cy="402.00" r="1.2" fill="none" stroke="#6BC9DD" stroke-width="0.55" stroke-opacity="0.8"/>
<circle cx="557.15" cy="403.60" r="1.2" fill="none" stroke="#6BC9DD" stroke-width="0.55" stroke-opacity="0.8"/>
<circle cx="629.75" cy="345.20" r="1.2" fill="none" stroke="#BCC1C9" stroke-width="0.55" stroke-opacity="0.8"/>
<circle cx="629.75" cy="346.80" r="1.2" fill="none" stroke="#BCC1C9" stroke-width="0.55" stroke-opacity="0.8"/>
<circle cx="629.75" cy="348.40" r="1.2" fill="none" stroke="#BCC1C9" stroke-width="0.55" stroke-opacity="0.8"/>
<circle cx="629.75" cy="350.00" r="1.2" fill="none" stroke="#BCC1C9" stroke-width="0.55" stroke-opacity="0.8"/>
<circle cx="629.75" cy="351.60" r="1.2" fill="none" stroke="#BCC1C9" stroke-width="0.55" stroke-opacity="0.8"/>
<circle cx="629.75" cy="353.20" r="1.2" fill="none" stroke="#BCC1C9" stroke-width="0.55" stroke-opacity="0.8"/>
<circle cx="629.75" cy="354.80" r="1.2" fill="none" stroke="#BCC1C9" stroke-width="0.55" stroke-opacity="0.8"/>
<circle cx="629.75" cy="356.40" r="1.2" fill="none" stroke="#BCC1C9" stroke-width="0.55" stroke-opacity="0.8"/>
<circle cx="629.75" cy="358.00" r="1.2" fill="none" stroke="#BCC1C9" stroke-width="0.55" stroke-opacity="0.8"/>
<circle cx="629.75" cy="359.60" r="1.2" fill="none" stroke="#BCC1C9" stroke-width="0.55" stroke-opacity="0.8"/>
<circle cx="629.75" cy="361.20" r="1.2" fill="none" stroke="#BCC1C9" stroke-width="0.55" stroke-opacity="0.8"/>
<circle cx="629.75" cy="362.80" r="1.2" fill="none" stroke="#BCC1C9" stroke-width="0.55" stroke-opacity="0.8"/>
<circle cx="629.75" cy="364.40" r="1.2" fill="none" stroke="#BCC1C9" stroke-width="0.55" stroke-opacity="0.8"/>
<circle cx="629.75" cy="366.00" r="1.2" fill="none" stroke="#BCC1C9" stroke-width="0.55" stroke-opacity="0.8"/>
<circle cx="629.75" cy="367.60" r="1.2" fill="none" stroke="#BCC1C9" stroke-width="0.55" stroke-opacity="0.8"/>
<circle cx="629.75" cy="369.20" r="1.2" fill="none" stroke="#BCC1C9" stroke-width="0.55" stroke-opacity="0.8"/>
<line x1="393.80" y1="288.80" x2="684.70" y2="288.80" stroke="#555555" stroke-width="1.5"/>
<line x1="684.10" y1="288.60" x2="684.10" y2="518.80" stroke="#333333" stroke-width="1.6"/>
<line x1="393.80" y1="288.10" x2="393.80" y2="519.40" stroke="#1a1a1a" stroke-width="1.3"/>
<line x1="393.20" y1="518.80" x2="684.60" y2="518.80" stroke="#1a1a1a" stroke-width="1.3"/>
<line x1="390.80" y1="518.80" x2="393.80" y2="518.80" stroke="#1a1a1a" stroke-width="1"/>
<text x="391.20" y="522.90" font-size="11.2" fill="#262626" stroke="#262626" stroke-width="0.2" text-anchor="end">0</text>
<line x1="390.80" y1="502.36" x2="393.80" y2="502.36" stroke="#1a1a1a" stroke-width="1"/>
<text x="391.20" y="506.46" font-size="11.2" fill="#262626" stroke="#262626" stroke-width="0.2" text-anchor="end">10</text>
<line x1="390.80" y1="485.91" x2="393.80" y2="485.91" stroke="#1a1a1a" stroke-width="1"/>
<text x="391.20" y="490.01" font-size="11.2" fill="#262626" stroke="#262626" stroke-width="0.2" text-anchor="end">20</text>
<line x1="390.80" y1="469.47" x2="393.80" y2="469.47" stroke="#1a1a1a" stroke-width="1"/>
<text x="391.20" y="473.57" font-size="11.2" fill="#262626" stroke="#262626" stroke-width="0.2" text-anchor="end">30</text>
<line x1="390.80" y1="453.03" x2="393.80" y2="453.03" stroke="#1a1a1a" stroke-width="1"/>
<text x="391.20" y="457.13" font-size="11.2" fill="#262626" stroke="#262626" stroke-width="0.2" text-anchor="end">40</text>
<line x1="390.80" y1="436.59" x2="393.80" y2="436.59" stroke="#1a1a1a" stroke-width="1"/>
<text x="391.20" y="440.69" font-size="11.2" fill="#262626" stroke="#262626" stroke-width="0.2" text-anchor="end">50</text>
<line x1="390.80" y1="420.14" x2="393.80" y2="420.14" stroke="#1a1a1a" stroke-width="1"/>
<text x="391.20" y="424.24" font-size="11.2" fill="#262626" stroke="#262626" stroke-width="0.2" text-anchor="end">60</text>
<line x1="390.80" y1="403.70" x2="393.80" y2="403.70" stroke="#1a1a1a" stroke-width="1"/>
<text x="391.20" y="407.80" font-size="11.2" fill="#262626" stroke="#262626" stroke-width="0.2" text-anchor="end">70</text>
<line x1="390.80" y1="387.26" x2="393.80" y2="387.26" stroke="#1a1a1a" stroke-width="1"/>
<text x="391.20" y="391.36" font-size="11.2" fill="#262626" stroke="#262626" stroke-width="0.2" text-anchor="end">80</text>
<line x1="390.80" y1="370.81" x2="393.80" y2="370.81" stroke="#1a1a1a" stroke-width="1"/>
<text x="391.20" y="374.91" font-size="11.2" fill="#262626" stroke="#262626" stroke-width="0.2" text-anchor="end">90</text>
<line x1="390.80" y1="354.37" x2="393.80" y2="354.37" stroke="#1a1a1a" stroke-width="1"/>
<text x="391.20" y="358.47" font-size="11.2" fill="#262626" stroke="#262626" stroke-width="0.2" text-anchor="end">100</text>
<line x1="390.80" y1="337.93" x2="393.80" y2="337.93" stroke="#1a1a1a" stroke-width="1"/>
<text x="391.20" y="342.03" font-size="11.2" fill="#262626" stroke="#262626" stroke-width="0.2" text-anchor="end">110</text>
<line x1="390.80" y1="321.49" x2="393.80" y2="321.49" stroke="#1a1a1a" stroke-width="1"/>
<text x="391.20" y="325.59" font-size="11.2" fill="#262626" stroke="#262626" stroke-width="0.2" text-anchor="end">120</text>
<line x1="390.80" y1="305.04" x2="393.80" y2="305.04" stroke="#1a1a1a" stroke-width="1"/>
<text x="391.20" y="309.14" font-size="11.2" fill="#262626" stroke="#262626" stroke-width="0.2" text-anchor="end">130</text>
<line x1="390.80" y1="288.60" x2="393.80" y2="288.60" stroke="#1a1a1a" stroke-width="1"/>
<text x="391.20" y="292.70" font-size="11.2" fill="#262626" stroke="#262626" stroke-width="0.2" text-anchor="end">140</text>
<line x1="412.20" y1="518.80" x2="412.20" y2="521.80" stroke="#1a1a1a" stroke-width="1"/>
<text x="412.20" y="535.60" font-size="11" fill="#262626" stroke="#262626" stroke-width="0.2" text-anchor="middle">1</text>
<line x1="448.45" y1="518.80" x2="448.45" y2="521.80" stroke="#1a1a1a" stroke-width="1"/>
<text x="448.45" y="535.60" font-size="11" fill="#262626" stroke="#262626" stroke-width="0.2" text-anchor="middle">2</text>
<line x1="484.70" y1="518.80" x2="484.70" y2="521.80" stroke="#1a1a1a" stroke-width="1"/>
<text x="484.70" y="535.60" font-size="11" fill="#262626" stroke="#262626" stroke-width="0.2" text-anchor="middle">3</text>
<line x1="520.85" y1="518.80" x2="520.85" y2="521.80" stroke="#1a1a1a" stroke-width="1"/>
<text x="520.85" y="535.60" font-size="11" fill="#262626" stroke="#262626" stroke-width="0.2" text-anchor="middle">4</text>
<line x1="557.15" y1="518.80" x2="557.15" y2="521.80" stroke="#1a1a1a" stroke-width="1"/>
<text x="557.15" y="535.60" font-size="11" fill="#262626" stroke="#262626" stroke-width="0.2" text-anchor="middle">5</text>
<line x1="593.45" y1="518.80" x2="593.45" y2="521.80" stroke="#1a1a1a" stroke-width="1"/>
<text x="593.45" y="535.60" font-size="11" fill="#262626" stroke="#262626" stroke-width="0.2" text-anchor="middle">6</text>
<line x1="629.75" y1="518.80" x2="629.75" y2="521.80" stroke="#1a1a1a" stroke-width="1"/>
<text x="629.75" y="535.60" font-size="11" fill="#262626" stroke="#262626" stroke-width="0.2" text-anchor="middle">7</text>
<line x1="666.05" y1="518.80" x2="666.05" y2="521.80" stroke="#1a1a1a" stroke-width="1"/>
<text x="666.05" y="535.60" font-size="11" fill="#262626" stroke="#262626" stroke-width="0.2" text-anchor="middle">8</text>
<text x="504.70" y="554.00" font-size="12" fill="#262626" stroke="#262626" stroke-width="0.2" textLength="68.40" lengthAdjust="spacingAndGlyphs">Owner index</text>
<text x="367.30" y="430.40" font-size="12.3" fill="#262626" stroke="#262626" stroke-width="0.2" textLength="68.10" lengthAdjust="spacingAndGlyphs" transform="rotate(-90 367.30 430.40)">Power (kW)</text>
<text x="-1.00" y="573.50" font-size="16" fill="#1a1a1a" font-weight="bold">e</text>
<rect x="73.00" y="650.32" width="8.00" height="81.68" fill="#A6C987"/>
<rect x="81.00" y="722.69" width="8.00" height="9.31" fill="#AFBFE2"/>
<rect x="105.46" y="666.94" width="8.00" height="65.06" fill="#A6C987"/>
<rect x="113.46" y="730.63" width="8.00" height="1.37" fill="#AFBFE2"/>
<rect x="137.92" y="620.12" width="8.00" height="111.88" fill="#A6C987"/>
<rect x="145.92" y="727.77" width="8.00" height="4.23" fill="#AFBFE2"/>
<rect x="170.38" y="615.04" width="8.00" height="116.96" fill="#A6C987"/>
<rect x="178.38" y="726.78" width="8.00" height="5.22" fill="#AFBFE2"/>
<rect x="202.84" y="631.53" width="8.00" height="100.47" fill="#A6C987"/>
<rect x="210.84" y="731.45" width="8.00" height="0.55" fill="#AFBFE2"/>
<rect x="235.30" y="684.77" width="8.00" height="47.23" fill="#A6C987"/>
<rect x="243.30" y="731.79" width="8.00" height="0.21" fill="#AFBFE2"/>
<rect x="267.76" y="643.79" width="8.00" height="88.21" fill="#A6C987"/>
<rect x="275.76" y="724.99" width="8.00" height="7.01" fill="#AFBFE2"/>
<rect x="300.22" y="645.75" width="8.00" height="86.25" fill="#A6C987"/>
<rect x="308.22" y="730.28" width="8.00" height="1.72" fill="#AFBFE2"/>
<line x1="60.80" y1="584.00" x2="328.30" y2="584.00" stroke="#6e6e6e" stroke-width="1.3"/>
<line x1="328.30" y1="584.00" x2="328.30" y2="732.00" stroke="#3a3a3a" stroke-width="1.0"/>
<line x1="60.80" y1="584.00" x2="60.80" y2="732.00" stroke="#333333" stroke-width="1.1"/>
<line x1="60.30" y1="732.00" x2="328.80" y2="732.00" stroke="#7a7a7a" stroke-width="1.3"/>
<line x1="57.50" y1="732.00" x2="60.80" y2="732.00" stroke="#333333" stroke-width="1"/>
<text x="54.30" y="736.35" font-size="12.2" fill="#262626" stroke="#262626" stroke-width="0.2" text-anchor="end">0</text>
<line x1="57.50" y1="714.83" x2="60.80" y2="714.83" stroke="#333333" stroke-width="1"/>
<text x="54.30" y="719.18" font-size="12.2" fill="#262626" stroke="#262626" stroke-width="0.2" text-anchor="end">500</text>
<line x1="57.50" y1="697.65" x2="60.80" y2="697.65" stroke="#333333" stroke-width="1"/>
<text x="54.30" y="702.00" font-size="12.2" fill="#262626" stroke="#262626" stroke-width="0.2" text-anchor="end">1000</text>
<line x1="57.50" y1="680.48" x2="60.80" y2="680.48" stroke="#333333" stroke-width="1"/>
<text x="54.30" y="684.83" font-size="12.2" fill="#262626" stroke="#262626" stroke-width="0.2" text-anchor="end">1500</text>
<line x1="57.50" y1="663.30" x2="60.80" y2="663.30" stroke="#333333" stroke-width="1"/>
<text x="54.30" y="667.65" font-size="12.2" fill="#262626" stroke="#262626" stroke-width="0.2" text-anchor="end">2000</text>
<line x1="57.50" y1="646.12" x2="60.80" y2="646.12" stroke="#333333" stroke-width="1"/>
<text x="54.30" y="650.48" font-size="12.2" fill="#262626" stroke="#262626" stroke-width="0.2" text-anchor="end">2500</text>
<line x1="57.50" y1="628.95" x2="60.80" y2="628.95" stroke="#333333" stroke-width="1"/>
<text x="54.30" y="633.30" font-size="12.2" fill="#262626" stroke="#262626" stroke-width="0.2" text-anchor="end">3000</text>
<line x1="57.50" y1="611.77" x2="60.80" y2="611.77" stroke="#333333" stroke-width="1"/>
<text x="54.30" y="616.12" font-size="12.2" fill="#262626" stroke="#262626" stroke-width="0.2" text-anchor="end">3500</text>
<line x1="57.50" y1="594.60" x2="60.80" y2="594.60" stroke="#333333" stroke-width="1"/>
<text x="54.30" y="598.95" font-size="12.2" fill="#262626" stroke="#262626" stroke-width="0.2" text-anchor="end">4000</text>
<line x1="81.00" y1="732.00" x2="81.00" y2="735.00" stroke="#333333" stroke-width="1"/>
<text x="81.00" y="747.70" font-size="12.5" fill="#262626" stroke="#262626" stroke-width="0.2" text-anchor="middle">1</text>
<text x="77.00" y="648.42" font-size="12.3" fill="#1a1a1a" stroke="#1a1a1a" stroke-width="0.2" text-anchor="middle">2378</text>
<text x="85.00" y="720.79" font-size="12.3" fill="#1a1a1a" stroke="#1a1a1a" stroke-width="0.2" text-anchor="middle">271</text>
<line x1="113.46" y1="732.00" x2="113.46" y2="735.00" stroke="#333333" stroke-width="1"/>
<text x="113.46" y="747.70" font-size="12.5" fill="#262626" stroke="#262626" stroke-width="0.2" text-anchor="middle">2</text>
<text x="109.46" y="665.04" font-size="12.3" fill="#1a1a1a" stroke="#1a1a1a" stroke-width="0.2" text-anchor="middle">1894</text>
<text x="117.46" y="728.73" font-size="12.3" fill="#1a1a1a" stroke="#1a1a1a" stroke-width="0.2" text-anchor="middle">40</text>
<line x1="145.92" y1="732.00" x2="145.92" y2="735.00" stroke="#333333" stroke-width="1"/>
<text x="145.92" y="747.70" font-size="12.5" fill="#262626" stroke="#262626" stroke-width="0.2" text-anchor="middle">3</text>
<text x="141.92" y="618.22" font-size="12.3" fill="#1a1a1a" stroke="#1a1a1a" stroke-width="0.2" text-anchor="middle">3257</text>
<text x="149.92" y="725.87" font-size="12.3" fill="#1a1a1a" stroke="#1a1a1a" stroke-width="0.2" text-anchor="middle">123</text>
<line x1="178.38" y1="732.00" x2="178.38" y2="735.00" stroke="#333333" stroke-width="1"/>
<text x="178.38" y="747.70" font-size="12.5" fill="#262626" stroke="#262626" stroke-width="0.2" text-anchor="middle">4</text>
<text x="174.38" y="613.14" font-size="12.3" fill="#1a1a1a" stroke="#1a1a1a" stroke-width="0.2" text-anchor="middle">3405</text>
<text x="182.38" y="724.88" font-size="12.3" fill="#1a1a1a" stroke="#1a1a1a" stroke-width="0.2" text-anchor="middle">152</text>
<line x1="210.84" y1="732.00" x2="210.84" y2="735.00" stroke="#333333" stroke-width="1"/>
<text x="210.84" y="747.70" font-size="12.5" fill="#262626" stroke="#262626" stroke-width="0.2" text-anchor="middle">5</text>
<text x="206.84" y="629.63" font-size="12.3" fill="#1a1a1a" stroke="#1a1a1a" stroke-width="0.2" text-anchor="middle">2925</text>
<text x="214.84" y="729.55" font-size="12.3" fill="#1a1a1a" stroke="#1a1a1a" stroke-width="0.2" text-anchor="middle">16</text>
<line x1="243.30" y1="732.00" x2="243.30" y2="735.00" stroke="#333333" stroke-width="1"/>
<text x="243.30" y="747.70" font-size="12.5" fill="#262626" stroke="#262626" stroke-width="0.2" text-anchor="middle">6</text>
<text x="239.30" y="682.87" font-size="12.3" fill="#1a1a1a" stroke="#1a1a1a" stroke-width="0.2" text-anchor="middle">1375</text>
<text x="247.30" y="729.89" font-size="12.3" fill="#1a1a1a" stroke="#1a1a1a" stroke-width="0.2" text-anchor="middle">6</text>
<line x1="275.76" y1="732.00" x2="275.76" y2="735.00" stroke="#333333" stroke-width="1"/>
<text x="275.76" y="747.70" font-size="12.5" fill="#262626" stroke="#262626" stroke-width="0.2" text-anchor="middle">7</text>
<text x="271.76" y="641.89" font-size="12.3" fill="#1a1a1a" stroke="#1a1a1a" stroke-width="0.2" text-anchor="middle">2568</text>
<text x="279.76" y="723.09" font-size="12.3" fill="#1a1a1a" stroke="#1a1a1a" stroke-width="0.2" text-anchor="middle">204</text>
<line x1="308.22" y1="732.00" x2="308.22" y2="735.00" stroke="#333333" stroke-width="1"/>
<text x="308.22" y="747.70" font-size="12.5" fill="#262626" stroke="#262626" stroke-width="0.2" text-anchor="middle">8</text>
<text x="304.22" y="643.85" font-size="12.3" fill="#1a1a1a" stroke="#1a1a1a" stroke-width="0.2" text-anchor="middle">2511</text>
<text x="312.22" y="728.38" font-size="12.3" fill="#1a1a1a" stroke="#1a1a1a" stroke-width="0.2" text-anchor="middle">50</text>
<text x="156.10" y="764.30" font-size="14.0" fill="#262626" stroke="#262626" stroke-width="0.2" textLength="77.10" lengthAdjust="spacingAndGlyphs">Owner index</text>
<text x="20.00" y="724.70" font-size="12.8" fill="#262626" stroke="#262626" stroke-width="0.2" textLength="135.30" lengthAdjust="spacingAndGlyphs" transform="rotate(-90 20.00 724.70)">Charging data amount</text>
<rect x="272.60" y="590.10" width="7.40" height="6.90" fill="#A6C987"/>
<rect x="272.60" y="605.00" width="7.40" height="6.70" fill="#AFBFE2"/>
<text x="284.50" y="597.70" font-size="12" fill="#333333" stroke="#333333" stroke-width="0.2" textLength="37.40" lengthAdjust="spacingAndGlyphs">normal</text>
<text x="284.50" y="612.60" font-size="12" fill="#333333" stroke="#333333" stroke-width="0.2" textLength="24.00" lengthAdjust="spacingAndGlyphs">fault</text>
<text x="345.40" y="574.30" font-size="16" fill="#1a1a1a" font-weight="bold">f</text>
<rect x="410.10" y="661.10" width="10.00" height="71.20" fill="#B1C1E3"/>
<rect x="443.79" y="611.20" width="10.00" height="121.10" fill="#B1C1E3"/>
<rect x="477.48" y="680.00" width="10.00" height="52.30" fill="#B1C1E3"/>
<rect x="511.17" y="651.60" width="10.00" height="80.70" fill="#B1C1E3"/>
<rect x="544.86" y="716.10" width="10.00" height="16.20" fill="#B1C1E3"/>
<rect x="578.55" y="722.90" width="10.00" height="9.40" fill="#B1C1E3"/>
<rect x="612.24" y="660.00" width="10.00" height="72.30" fill="#B1C1E3"/>
<rect x="645.93" y="709.20" width="10.00" height="23.10" fill="#B1C1E3"/>
<line x1="397.80" y1="584.30" x2="669.10" y2="584.30" stroke="#444444" stroke-width="1.2"/>
<line x1="668.60" y1="584.10" x2="668.60" y2="732.30" stroke="#3a3a3a" stroke-width="1.0"/>
<line x1="397.80" y1="584.10" x2="397.80" y2="732.30" stroke="#444444" stroke-width="1.1"/>
<line x1="397.30" y1="732.30" x2="669.10" y2="732.30" stroke="#2a2a2a" stroke-width="1.3"/>
<line x1="394.50" y1="732.30" x2="397.80" y2="732.30" stroke="#333333" stroke-width="1"/>
<text x="391.30" y="737.00" font-size="12.0" fill="#262626" stroke="#262626" stroke-width="0.2" text-anchor="end">0</text>
<line x1="394.50" y1="702.66" x2="397.80" y2="702.66" stroke="#333333" stroke-width="1"/>
<text x="391.30" y="707.36" font-size="12.0" fill="#262626" stroke="#262626" stroke-width="0.2" text-anchor="end">20</text>
<line x1="394.50" y1="673.02" x2="397.80" y2="673.02" stroke="#333333" stroke-width="1"/>
<text x="391.30" y="677.72" font-size="12.0" fill="#262626" stroke="#262626" stroke-width="0.2" text-anchor="end">40</text>
<line x1="394.50" y1="643.38" x2="397.80" y2="643.38" stroke="#333333" stroke-width="1"/>
<text x="391.30" y="648.08" font-size="12.0" fill="#262626" stroke="#262626" stroke-width="0.2" text-anchor="end">60</text>
<line x1="394.50" y1="613.74" x2="397.80" y2="613.74" stroke="#333333" stroke-width="1"/>
<text x="391.30" y="618.44" font-size="12.0" fill="#262626" stroke="#262626" stroke-width="0.2" text-anchor="end">80</text>
<line x1="394.50" y1="584.10" x2="397.80" y2="584.10" stroke="#333333" stroke-width="1"/>
<text x="391.30" y="588.80" font-size="12.0" fill="#262626" stroke="#262626" stroke-width="0.2" text-anchor="end">100</text>
<line x1="415.10" y1="732.30" x2="415.10" y2="735.60" stroke="#333333" stroke-width="1"/>
<text x="415.10" y="747.80" font-size="11.8" fill="#262626" stroke="#262626" stroke-width="0.2" text-anchor="middle">1</text>
<line x1="448.79" y1="732.30" x2="448.79" y2="735.60" stroke="#333333" stroke-width="1"/>
<text x="448.79" y="747.80" font-size="11.8" fill="#262626" stroke="#262626" stroke-width="0.2" text-anchor="middle">2</text>
<line x1="482.48" y1="732.30" x2="482.48" y2="735.60" stroke="#333333" stroke-width="1"/>
<text x="482.48" y="747.80" font-size="11.8" fill="#262626" stroke="#262626" stroke-width="0.2" text-anchor="middle">3</text>
<line x1="516.17" y1="732.30" x2="516.17" y2="735.60" stroke="#333333" stroke-width="1"/>
<text x="516.17" y="747.80" font-size="11.8" fill="#262626" stroke="#262626" stroke-width="0.2" text-anchor="middle">4</text>
<line x1="549.86" y1="732.30" x2="549.86" y2="735.60" stroke="#333333" stroke-width="1"/>
<text x="549.86" y="747.80" font-size="11.8" fill="#262626" stroke="#262626" stroke-width="0.2" text-anchor="middle">5</text>
<line x1="583.55" y1="732.30" x2="583.55" y2="735.60" stroke="#333333" stroke-width="1"/>
<text x="583.55" y="747.80" font-size="11.8" fill="#262626" stroke="#262626" stroke-width="0.2" text-anchor="middle">6</text>
<line x1="617.24" y1="732.30" x2="617.24" y2="735.60" stroke="#333333" stroke-width="1"/>
<text x="617.24" y="747.80" font-size="11.8" fill="#262626" stroke="#262626" stroke-width="0.2" text-anchor="middle">7</text>
<line x1="650.93" y1="732.30" x2="650.93" y2="735.60" stroke="#333333" stroke-width="1"/>
<text x="650.93" y="747.80" font-size="11.8" fill="#262626" stroke="#262626" stroke-width="0.2" text-anchor="middle">8</text>
<text x="494.80" y="764.30" font-size="14.0" fill="#262626" stroke="#262626" stroke-width="0.2" textLength="76.80" lengthAdjust="spacingAndGlyphs">Owner index</text>
<text x="366.00" y="716.40" font-size="12.8" fill="#262626" stroke="#262626" stroke-width="0.2" textLength="117.60" lengthAdjust="spacingAndGlyphs" transform="rotate(-90 366.00 716.40)">Fault recall rate (%)</text>
<rect x="612.00" y="597.30" width="7.70" height="6.80" fill="#B1C1E3"/>
<text x="624.00" y="605.30" font-size="12" fill="#333333" stroke="#333333" stroke-width="0.2" textLength="24.10" lengthAdjust="spacingAndGlyphs">local</text>
</svg>
</body></html>
